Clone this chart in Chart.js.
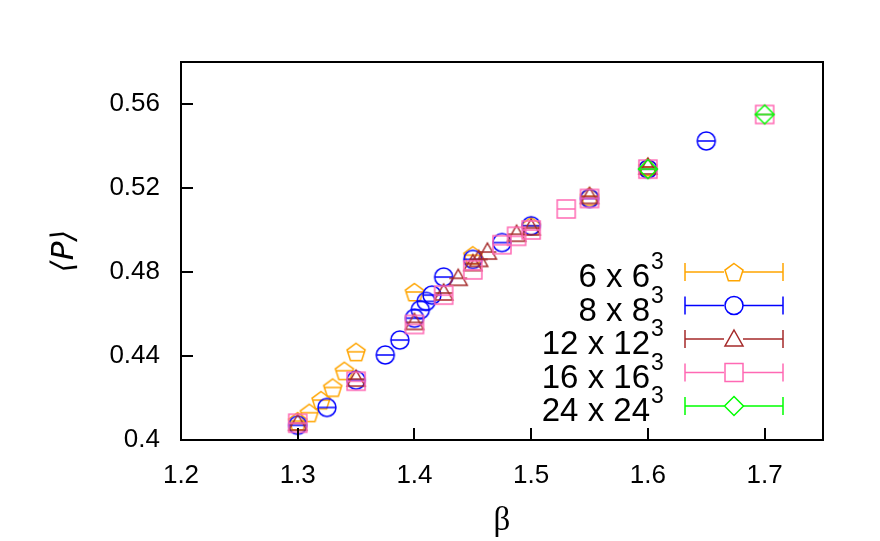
<!DOCTYPE html>
<html>
<head>
<meta charset="utf-8">
<script src="https://cdn.jsdelivr.net/npm/chart.js@4.4.1/dist/chart.umd.min.js"></script>
<style>
  body { margin: 0; background: #fff; }
</style>
</head>
<body>
<canvas id="plot" width="880" height="541"></canvas>
<script>
// lattice sizes (the "3" is drawn as a superscript)
var sizeLabels = ['6 x 6', '8 x 8', '12 x 12', '16 x 16', '24 x 24'];
var colors = ['#ffa500', '#0000ff', '#a52a2a', '#ff69b4', '#00ff00'];
var shapes = ['pentagon', 'circle', 'triangle', 'square', 'diamond'];

var beta6 = [1.30, 1.31, 1.32, 1.33, 1.34, 1.35, 1.40, 1.45, 1.50, 1.55, 1.60];
var plaq6 = [0.409, 0.413, 0.419, 0.425, 0.433, 0.442, 0.4705, 0.488, 0.502, 0.516, 0.530];

var beta8 = [1.30, 1.325, 1.35, 1.375, 1.3875, 1.40, 1.405, 1.41, 1.415, 1.425, 1.45, 1.475, 1.50, 1.55, 1.60, 1.65];
var plaq8 = [0.407, 0.4155, 0.4285, 0.4405, 0.4476, 0.458, 0.462, 0.466, 0.469, 0.4776, 0.486, 0.494, 0.502, 0.515, 0.529, 0.5424];

var beta12 = [1.30, 1.35, 1.40, 1.425, 1.4375, 1.45, 1.455, 1.4625, 1.4875, 1.50, 1.55, 1.60];
var plaq12 = [0.408, 0.429, 0.456, 0.470, 0.477, 0.484, 0.486, 0.4895, 0.498, 0.501, 0.516, 0.530];

var beta16 = [1.30, 1.35, 1.40, 1.425, 1.45, 1.475, 1.4875, 1.50, 1.53, 1.55, 1.60, 1.70];
var plaq16 = [0.408, 0.428, 0.455, 0.469, 0.481, 0.493, 0.497, 0.500, 0.510, 0.515, 0.529, 0.555];

var beta24 = [1.60, 1.70];
var plaq24 = [0.529, 0.555];

var xTicks = [1.2, 1.3, 1.4, 1.5, 1.6, 1.7];
var xTickLabels = ['1.2', '1.3', '1.4', '1.5', '1.6', '1.7'];
var yTicks = [0.4, 0.44, 0.48, 0.52, 0.56];
var yTickLabels = ['0.4', '0.44', '0.48', '0.52', '0.56'];

var allBeta = [beta6, beta8, beta12, beta16, beta24];
var allPlaq = [plaq6, plaq8, plaq12, plaq16, plaq24];

function drawSymbol(c, shape, x, y, color, bar) {
    c.save();
    c.strokeStyle = color;
    c.lineWidth = 1.5;
    c.beginPath();
    if (shape === 'circle') {
        c.arc(x, y, 9, 0, Math.PI * 2);
    } else if (shape === 'square') {
        c.rect(x - 9, y - 9, 18, 18);
    } else if (shape === 'diamond') {
        c.moveTo(x, y - 9.5); c.lineTo(x + 9.5, y); c.lineTo(x, y + 9.5); c.lineTo(x - 9.5, y);
        c.closePath();
    } else if (shape === 'triangle') {
        c.moveTo(x, y - 9); c.lineTo(x + 9, y + 7); c.lineTo(x - 9, y + 7);
        c.closePath();
    } else {
        for (var k = 0; k < 5; k++) {
            var a = -Math.PI / 2 + k * 2 * Math.PI / 5;
            var px = x + 9.5 * Math.cos(a), py = y + 1 + 9.5 * Math.sin(a);
            if (k === 0) c.moveTo(px, py); else c.lineTo(px, py);
        }
        c.closePath();
    }
    c.stroke();
    if (bar) {
        c.beginPath();
        c.moveTo(x - 9, y);
        c.lineTo(x + 9, y);
        c.stroke();
    }
    c.restore();
}

function makeIcon(shape, color) {
    var cv = document.createElement('canvas');
    cv.width = 26;
    cv.height = 26;
    drawSymbol(cv.getContext('2d'), shape, 13, 13, color, true);
    return cv;
}

var datasets = allBeta.map(function (b, i) {
    return {
        label: sizeLabels[i],
        data: b.map(function (v, j) { return { x: v, y: allPlaq[i][j] }; }),
        pointStyle: makeIcon(shapes[i], colors[i]),
        borderColor: colors[i],
        backgroundColor: colors[i],
        showLine: false,
        order: 5 - i
    };
});

// box, inward ticks and the key
var frame = {
    id: 'frame',
    afterDraw: function (chart) {
        var c = chart.ctx, a = chart.chartArea;
        var xs = chart.scales.x, ys = chart.scales.y;
        c.save();
        c.strokeStyle = '#000';
        c.lineWidth = 2;
        c.beginPath();
        xTicks.forEach(function (v) {
            var px = Math.round(xs.getPixelForValue(v));
            c.moveTo(px, a.bottom);
            c.lineTo(px, a.bottom - 12);
        });
        yTicks.forEach(function (v) {
            var py = Math.round(ys.getPixelForValue(v));
            c.moveTo(a.left, py);
            c.lineTo(a.left + 12, py);
        });
        c.stroke();
        c.strokeRect(a.left, a.top, a.right - a.left, a.bottom - a.top);

        // key
        for (var i = 0; i < sizeLabels.length; i++) {
            var yc = 272 + i * 33.5;
            c.fillStyle = '#000';
            c.font = '33px "Liberation Sans", Arial, sans-serif';
            c.textAlign = 'right';
            c.textBaseline = 'alphabetic';
            c.fillText(sizeLabels[i], 650, yc + 15);
            c.font = '23px "Liberation Sans", Arial, sans-serif';
            c.textAlign = 'left';
            c.fillText('3', 651, yc - 3);

            c.strokeStyle = colors[i];
            c.lineWidth = 1.5;
            c.beginPath();
            c.moveTo(685, yc); c.lineTo(724, yc);
            c.moveTo(743, yc); c.lineTo(783, yc);
            c.moveTo(685, yc - 9); c.lineTo(685, yc + 9);
            c.moveTo(783, yc - 9); c.lineTo(783, yc + 9);
            c.stroke();
            drawSymbol(c, shapes[i], 734, yc, colors[i], false);
        }
        c.restore();
    }
};

var tickFont = { family: '"Liberation Sans", Arial, sans-serif', size: 26 };

new Chart(document.getElementById('plot').getContext('2d'), {
    type: 'scatter',
    data: { datasets: datasets },
    options: {
        responsive: false,
        animation: false,
        layout: { padding: { left: 0, top: 62, right: 57, bottom: 0 } },
        plugins: {
            legend: { display: false },
            tooltip: { enabled: false }
        },
        scales: {
            x: {
                type: 'linear',
                min: 1.2,
                max: 1.75,
                afterBuildTicks: function (s) {
                    s.ticks = xTicks.map(function (v) { return { value: v }; });
                },
                afterFit: function (s) { s.height = 101; },
                grid: { display: false, drawTicks: false },
                border: { display: false },
                ticks: {
                    color: '#000',
                    font: tickFont,
                    padding: 20,
                    maxRotation: 0,
                    callback: function (v, i) { return xTickLabels[i]; }
                },
                title: {
                    display: true,
                    text: 'β',
                    color: '#000',
                    font: { family: '"Liberation Serif", "Times New Roman", serif', size: 33 },
                    padding: { top: 0, bottom: 0 }
                }
            },
            y: {
                type: 'linear',
                min: 0.4,
                max: 0.58,
                afterBuildTicks: function (s) {
                    s.ticks = yTicks.map(function (v) { return { value: v }; });
                },
                afterFit: function (s) { s.width = 181; },
                grid: { display: false, drawTicks: false },
                border: { display: false },
                ticks: {
                    color: '#000',
                    font: tickFont,
                    padding: 21,
                    callback: function (v, i) { return yTickLabels[i]; }
                },
                title: {
                    display: true,
                    text: '⟨P⟩',
                    color: '#000',
                    font: { family: '"DejaVu Sans", sans-serif', size: 31, style: 'italic' },
                    padding: { top: 46, bottom: 0 }
                }
            }
        }
    },
    plugins: [frame]
});
</script>
</body>
</html>
